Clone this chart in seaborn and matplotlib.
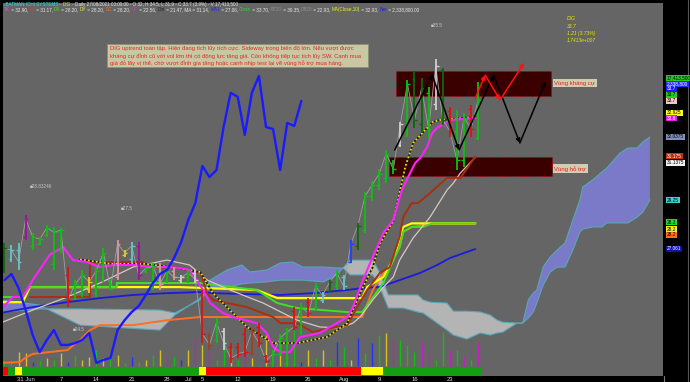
import numpy as np
import pandas as pd
import matplotlib
matplotlib.use("Agg")
import matplotlib.pyplot as plt
import matplotlib.transforms as mtransforms
from matplotlib.patches import Rectangle
import seaborn as sns

# ---------------------------------------------------------------- data
dates = pd.bdate_range("2021-05-26", periods=68)
bar_high = [27.33, 27.24, 27.33, 28.57, 27.77, 27.60, 28.13, 28.04, 28.00, 26.26,
            25.68, 26.13, 25.80, 26.26, 27.11, 25.68, 27.46, 27.00, 27.38, 27.38,
            26.26, 26.44, 26.44, 26.26, 26.26, 25.91, 26.13, 26.13, 25.24, 23.33,
            24.00, 23.55, 22.88, 22.88, 23.55, 23.60, 23.77, 22.35, 22.57, 23.30,
            23.55, 24.48, 24.66, 24.88, 25.55, 25.15, 25.68, 26.13, 25.91, 27.46,
            28.22, 29.60, 30.10, 30.60, 31.46, 31.00, 32.71, 34.57, 34.93, 34.66,
            34.26, 35.50, 35.10, 33.37, 33.24, 33.10, 33.46, 34.50]
bar_low = [26.00, 26.48, 26.13, 27.46, 27.02, 27.24, 27.60, 26.13, 26.90, 24.48,
           24.80, 24.93, 25.10, 24.93, 25.60, 25.24, 25.68, 26.70, 26.44, 25.68,
           26.00, 25.24, 25.24, 25.55, 25.68, 25.55, 25.55, 25.55, 22.88, 22.57,
           22.88, 22.57, 22.00, 22.22, 22.26, 22.35, 22.71, 22.00, 21.82, 22.30,
           21.82, 23.46, 23.24, 24.04, 24.35, 24.66, 25.15, 25.24, 25.24, 26.44,
           27.02, 27.77, 29.20, 29.70, 29.99, 30.40, 31.60, 32.04, 32.44, 32.20,
           31.91, 33.24, 32.57, 32.04, 30.57, 30.70, 32.04, 31.90]
bar_open = [26.30, 26.60, 27.00, 27.60, 27.20, 27.30, 27.70, 26.40, 27.00, 25.90,
            25.00, 25.10, 25.30, 25.10, 25.80, 25.60, 25.80, 26.80, 26.60, 27.20,
            26.10, 25.40, 26.30, 25.70, 26.10, 25.70, 25.80, 26.00, 25.00, 23.20,
            23.00, 23.40, 22.70, 22.70, 23.30, 22.50, 23.60, 22.30, 22.00, 22.40,
            22.00, 24.30, 23.40, 24.70, 24.50, 24.80, 25.20, 25.40, 25.80, 26.50,
            27.20, 27.90, 29.40, 29.90, 30.20, 30.90, 31.70, 32.30, 34.60, 32.60,
            34.00, 33.50, 35.00, 33.20, 32.30, 31.00, 33.30, 32.00]
bar_close = [27.10, 27.00, 26.50, 28.40, 27.60, 27.50, 28.00, 27.80, 27.90, 24.80,
             25.50, 25.90, 25.60, 26.10, 26.90, 25.30, 27.30, 26.90, 27.20, 25.90,
             26.20, 26.30, 25.50, 26.10, 25.80, 25.80, 26.00, 25.70, 23.30, 22.80,
             23.80, 22.90, 22.20, 22.40, 22.50, 23.40, 22.90, 22.10, 22.40, 23.10,
             23.40, 23.60, 24.50, 24.20, 25.40, 25.00, 25.60, 26.00, 25.40, 27.30,
             28.10, 29.40, 29.90, 30.40, 31.30, 30.60, 32.60, 34.40, 32.80, 34.20,
             32.40, 35.20, 32.80, 32.30, 31.00, 32.90, 32.40, 33.70]
bar_kind = list("dccmggggg" "rggyggg" "pyc" "mggpgpwgw" "rogwrrrorrggg"
                "rgrgcdgcbdggggg" "wgddgwdrggrg")
volume_m = [4.5, 3.0, 10.6, 9.8, 3.0, 3.8, 6.1, 4.5, 9.8, 3.0,
            8.3, 4.5, 6.8, 12.1, 6.1, 8.3, 8.3, 2.3, 6.8, 3.0,
            4.5, 8.3, 12.1, 6.8, 6.8, 4.5, 12.1, 21.2, 15.9, 12.1,
            4.5, 22.0, 13.6, 4.5, 10.6, 6.1, 0.8, 23.5, 3.0, 19.7,
            7.6, 27.3, 3.0, 12.1, 6.1, 12.1, 4.5, 18.2, 14.4, 4.5,
            21.2, 9.8, 17.4, 23.5, 25.0, 19.7, 19.7, 15.9, 10.6, 18.2,
            9.8, 4.5, 25.8, 12.1, 12.1, 6.8, 4.5, 17.41]
volume_kind = list("ggyybgygybgyygygygbgygymgbymymggygmygybygg"
                   "bygygbgybgbgymgggmmggmgmgmg")
trend_kind = list("rgy" + "g" * 25 + "y" + "r" * 22 + "yyy" + "g" * 14)

# blue indicator line (bars 0..42)
indicator = [25.68, 25.95, 25.33, 24.35, 23.24, 22.48, 23.02, 23.46, 22.80, 22.80,
             22.88, 23.02, 23.33, 22.00, 22.13, 22.22, 23.46, 23.90, 24.26, 24.53,
             25.02, 25.55, 25.95, 26.13, 26.66, 27.37, 28.35, 29.10, 30.75, 30.26,
             30.57, 32.48, 34.00, 33.82, 32.13, 34.00, 34.75, 32.48, 32.39, 30.57,
             32.66, 32.53, 33.64]

# ichimoku / moving-average lines as (bar, value) vertices
tk_x = [-0.6, 1.2, 2.6, 4.0, 6.4, 8.3, 9.7, 11.7, 13.5, 15.4, 18.2, 21.0, 23.0, 24.8, 26.2,
        28.1, 29.1, 30.9, 32.3, 35.7, 37.1, 38.0, 39.0, 40.4, 41.8, 44.6, 47.0, 48.5, 49.3,
        50.7, 52.1, 53.6, 55.0, 56.2, 57.1, 58.1, 58.8, 59.8, 60.5, 61.2, 63.0, 66.6]
tk_y = [24.35, 24.93, 24.93, 25.68, 26.80, 27.15, 26.57, 26.48, 26.26, 26.35, 26.35, 26.26,
        26.26, 26.22, 26.13, 25.24, 24.66, 24.22, 24.04, 23.77, 23.33, 22.71, 22.48, 22.48,
        23.15, 23.33, 23.77, 24.04, 24.48, 25.68, 26.71, 27.77, 28.35, 29.68, 30.26, 30.88,
        31.10, 31.60, 32.22, 32.44, 32.79, 32.88]
kj_x = [3.6, 12.1, 12.1, 19.6, 20.2, 24.8, 27.7, 28.7, 29.5, 34.3, 38.0, 39.0, 41.4, 43.6,
        46.1, 48.5, 49.9, 51.3, 53.1, 54.5, 55.9, 56.4, 57.6, 58.5, 60.2, 62.6, 64.5, 66.6]
kj_y = [24.93, 24.93, 26.48, 26.48, 26.26, 26.22, 26.00, 25.08, 24.80, 24.48, 24.04, 23.77,
        23.77, 23.37, 23.55, 23.68, 24.48, 25.24, 26.00, 26.26, 27.60, 28.48, 29.10, 29.10,
        29.55, 30.22, 30.22, 31.175]
ma_x = [-0.6, 4.0, 8.9, 13.5, 18.2, 23.0, 26.2, 28.7, 31.9, 36.6, 41.4, 44.6, 47.5, 49.3,
        50.3, 52.1, 53.6, 55.0, 55.9, 57.8, 60.2, 62.6, 63.5, 64.5, 66.6]
ma_y = [23.77, 24.35, 24.93, 25.55, 26.26, 26.57, 26.35, 25.68, 25.24, 24.66, 23.90, 23.60,
        23.55, 23.77, 24.04, 24.80, 25.37, 25.82, 26.57, 27.55, 28.48, 29.68, 29.99, 30.44,
        31.1375]
ma1_x = [-0.6, 4.0, 8.9, 13.5, 18.2, 23.0, 27.7, 29.5, 39.0, 43.6, 48.5, 50.7, 53.1, 55.9,
         58.8, 61.2, 63.0, 66.6]
ma1_y = [24.22, 24.48, 24.70, 24.88, 25.02, 25.10, 25.15, 25.10, 25.02, 25.10, 25.24, 25.33,
         25.37, 25.68, 26.00, 26.35, 26.66, 27.061]
dy_x = [-0.6, 2.6, 3.6, 24.8, 35.7, 38.6, 50.6, 51.3, 53.6, 55.0, 56.4, 57.6, 66.6]
dy_y = [24.70, 24.70, 25.37, 25.37, 25.24, 24.88, 24.88, 25.37, 25.82, 26.60, 28.04, 28.20, 28.20]
dx_x = [-0.6, 2.6, 3.6, 15.9, 15.9, 27.7, 35.7, 38.6, 41.4, 48.5, 50.6, 53.6, 55.0, 55.9,
        56.4, 57.6, 59.2, 60.5, 66.6]
dx_y = [24.93, 24.93, 25.37, 25.37, 25.55, 25.55, 25.24, 24.66, 24.44, 24.26, 24.26, 25.55,
        26.57, 27.15, 27.82, 28.04, 28.04, 28.20, 28.20]
dc_x = [-0.6, 2.2, 2.9, 4.0, 8.9, 10.7, 12.1, 13.5, 18.2, 23.0, 27.7, 50.6, 52.1, 53.6,
        54.5, 55.9, 56.4, 57.6, 60.5, 66.6]
dc_y = [22.00, 22.04, 22.22, 22.40, 22.57, 23.02, 23.46, 23.68, 23.68, 23.90, 24.04, 24.04,
        25.24, 26.00, 26.26, 27.15, 27.82, 28.04, 28.20, 28.20]
ma10_x = [10.7, 15.0, 20.0, 24.8, 27.7, 29.5, 34.3, 38.0, 41.4, 45.6, 48.5, 50.3, 52.1,
          53.1, 55.0, 56.7, 57.8, 60.6, 61.6, 66.6]
ma10_y = [26.60, 26.40, 26.40, 26.20, 26.04, 25.10, 23.60, 22.88, 22.88, 23.15, 23.77,
          25.10, 26.26, 27.30, 28.30, 30.71, 31.77, 32.71, 32.79, 32.925]

# ichimoku cloud (senkou span A / B), projected 26 bars ahead
cloud_x = [-0.6, 5.0, 6.0, 10.7, 22.0, 24.1, 27.7, 29.1, 31.5, 33.6, 34.7, 37.1, 39.0, 40.8,
           42.2, 45.1, 47.0, 47.9, 48.9, 52.1, 53.1, 54.3, 56.4, 58.5, 59.2, 60.2, 62.6,
           63.5, 65.4, 67.3, 68.7, 69.7, 70.5, 72.5, 73.3, 74.1, 74.8, 75.3, 76.2, 77.2,
           78.2, 79.3, 80.4, 81.4, 81.8, 83.2, 84.5, 85.2, 87.1, 88.2, 89.5, 90.3, 91.3]
span_a = [24.80, 24.57, 24.40, 23.68, 23.46, 24.13, 24.88, 25.68, 26.13, 26.35, 26.04, 26.13,
          26.44, 26.48, 26.26, 26.26, 26.22, 26.22, 25.91, 25.91, 25.37, 24.44, 24.44, 24.26,
          24.22, 24.00, 23.46, 23.24, 23.06, 23.33, 23.24, 23.33, 23.37, 23.77, 23.77, 24.80,
          25.10, 25.24, 26.26, 26.71, 27.02, 27.33, 28.35, 29.24, 29.82, 30.13, 30.48, 30.66,
          31.33, 31.55, 31.55, 31.82, 32.0375]
span_b = [24.26, 24.40, 24.40, 24.40, 24.35, 24.22, 24.80, 25.37, 25.37, 25.51, 25.55, 25.60,
          25.68, 25.68, 25.68, 25.60, 25.91, 26.22, 26.57, 26.57, 26.00, 25.02, 25.02, 25.02,
          24.80, 24.70, 24.66, 24.30, 24.30, 24.26, 24.13, 23.90, 23.81, 23.77, 23.77, 24.00,
          24.26, 24.66, 25.46, 26.04, 26.26, 26.26, 27.02, 27.82, 27.95, 28.04, 28.04, 28.22,
          28.22, 28.22, 28.48, 28.70, 29.25]

# hand-drawn scenario paths (bar, price)
black_path_x = [55.2, 60.5, 64.3, 69.2, 72.9, 76.5]
black_path_y = [31.46, 34.79, 31.46, 34.79, 31.77, 34.48]
red_path_x = [66.6, 68.0, 70.1, 73.5]
red_path_y = [33.77, 34.79, 33.68, 35.33]
resistance_zone = (55.4, 77.3, 33.86, 34.97)
support_zone = (54.4, 77.5, 30.31, 31.15)

tick_pos = [3, 8, 13, 18, 23, 26, 28, 33, 38, 43, 48, 53, 58, 63]
tick_lab = ["31 Jun", "7", "14", "21", "28", "Jul", "5", "12", "19", "26", "Aug", "9", "16", "23"]

price_labels = ["17,413,500", "2,338,800", "33.7", "33.7", "33.7", "32.925", "32.8",
                "32.0375", "31.175", "31.1375", "29.25", "28.2", "28.2", "28.2", "27.061"]
price_label_colors = [("#22cc22", "black"), ("#2a2aff", "white"), ("#1a1aff", "white"),
                      ("#22cc22", "black"), ("#f0c8c8", "black"), ("#ffff20", "black"),
                      ("#e020e0", "white"), ("#8090b8", "black"), ("#c03010", "white"),
                      ("#f0f0f0", "black"), ("#40d0d0", "black"), ("#22dd22", "black"),
                      ("#f0f020", "black"), ("#ff7020", "black"), ("#1010b0", "white")]
price_label_ypx = [78, 84, 89, 95, 101, 113, 118, 137, 156, 163, 200, 222, 229, 235, 249]

note_lines = ["DIG uptrend toàn tập. Hiện đang tích lũy tích cực. Sideway trong biên độ lớn. Nếu vượt được",
              "kháng cự đỉnh cũ với vol lớn thì có động lực tăng giá. Còn không tiếp tục tích lũy SW. Canh mua",
              "giá đỏ lấy vị thế, chờ vượt đỉnh gia tăng hoặc canh nhịp test lại về vùng hỗ trợ mua hàng."]
summary = ["DIG", "33.7", "1.21 (3.73%)", "1.7413e+007"]

# ---------------------------------------------------------------- style
W, H = 690, 382
sns.set_theme(style="dark", rc={"axes.facecolor": "#656565", "figure.facecolor": "black"})
FONT = ["Liberation Sans", "DejaVu Sans"]
plt.rcParams["font.family"] = FONT

fig = plt.figure(figsize=(W / 100, H / 100), dpi=100)
ax = fig.add_axes([3 / W, 1 - 376 / H, 660 / W, 373 / H])
ax.set_xlim(-0.2, 93.15)
ax.set_ylim(21.42, 37.99)
for s in ax.spines.values():
    s.set_visible(False)
ax.grid(False)

kind_color = {"g": "#10c010", "d": "#0a6a0a", "r": "#e01010", "c": "#60c8c8", "m": "#a010a0",
              "p": "#d898a0", "w": "#d0d0d0", "o": "#a04020", "y": "#e0d020", "b": "#2040ff"}

# cloud
ca, cb = np.array(span_a), np.array(span_b)
ax.fill_between(cloud_x, ca, cb, where=ca >= cb, interpolate=True, color="#7a7ac8", lw=0, zorder=1)
ax.fill_between(cloud_x, ca, cb, where=ca < cb, interpolate=True, color="#b4b4b4", lw=0, zorder=1)
ax.plot(cloud_x, ca, color="#58a8b8", lw=0.8, zorder=1.5)
ax.plot(cloud_x, cb, color="#58a8b8", lw=0.8, zorder=1.5)

# volume (twin axis)
vax = ax.twinx()
vax.set_ylim(-7.58, 275)
vax.set_yticks([])
for s in vax.spines.values():
    s.set_visible(False)
vkc = {"g": "#10c010", "y": "#d8c020", "b": "#2030ff", "m": "#c020c0"}
vax.vlines(range(len(volume_m)), 0, volume_m, colors=[vkc[k] for k in volume_kind], lw=1.0)
strip_c = {"g": "#10a010", "y": "#ffff00", "r": "#ff0000"}
trans = mtransforms.blended_transform_factory(vax.transData, vax.transAxes)
vax.bar(np.arange(len(trend_kind)) - 0.5, 8 / 373, width=1.0, bottom=1 / 373, align="edge",
        color=[strip_c[k] for k in trend_kind], transform=trans, lw=0)

ax.set_zorder(vax.get_zorder() + 1)
ax.patch.set_visible(False)
fig.patches.append(Rectangle((3 / W, 1 - 376 / H), 660 / W, 373 / H, transform=fig.transFigure,
                             facecolor="#656565", edgecolor="none", zorder=-5))

def line(xs, ys, color, lw, z=3, **kw):
    sns.lineplot(x=xs, y=ys, ax=ax, color=color, linewidth=lw, sort=False, estimator=None,
                 legend=False, zorder=z, **kw)

line(ma1_x, ma1_y, "#1a1ae0", 1.3)
line(dc_x, dc_y, "#ff7020", 1.4)
line(dy_x, dy_y, "#ffff00", 1.6)
line(dx_x, dx_y, "#40e020", 1.4)
line(ma_x, ma_y, "#d8c8c0", 0.9)
line(kj_x, kj_y, "#a83010", 1.4)
line(ma10_x, ma10_y, "#202020", 1.3)
line(ma10_x, ma10_y, "#e8d820", 1.3, dashes=(1, 1.2))
line(tk_x, tk_y, "#ff20ff", 1.5)

# close line and OHLC bars
idx = np.arange(len(bar_close))
line(list(idx), bar_close, "#a0a0a0", 0.6, z=3.5)
cols = [kind_color[k] for k in bar_kind]
ax.vlines(idx, bar_low, bar_high, colors=cols, lw=1.3, zorder=4)
ax.hlines(bar_open, idx - 0.4, idx, colors=cols, lw=1.0, zorder=4)
ax.hlines(bar_close, idx, idx + 0.4, colors=cols, lw=1.0, zorder=4)

# blue indicator
line(list(range(len(indicator))), indicator, "#1a1aff", 1.7, z=5)

# zones
for (x0, x1, y0, y1) in (resistance_zone, support_zone):
    ax.add_patch(Rectangle((x0, y0), x1 - x0, y1 - y0, facecolor="#3a0000",
                           edgecolor="#b00000", lw=0.6, ls=":", zorder=2.5))
ax.text(resistance_zone[1] + 0.5, (resistance_zone[2] + resistance_zone[3]) / 2, "Vùng kháng cự",
        fontsize=4.3, color="#e02020", va="center", ha="left", zorder=6,
        bbox=dict(boxstyle="square,pad=0.25", fc="#cfcfb0", ec="none"))
ax.text(support_zone[1] + 0.3, (support_zone[2] + support_zone[3]) / 2 - 0.1, "Vùng hỗ trợ",
        fontsize=4.3, color="#e02020", va="center", ha="left", zorder=6,
        bbox=dict(boxstyle="square,pad=0.25", fc="#cfcfb0", ec="none"))

def path(xs, ys, color):
    for i in range(len(xs) - 1):
        ax.annotate("", xy=(xs[i + 1], ys[i + 1]), xytext=(xs[i], ys[i]), zorder=6,
                    arrowprops=dict(arrowstyle="-|>", color=color, lw=1.1,
                                    mutation_scale=6, shrinkA=0, shrinkB=0))

path(black_path_x, black_path_y, "black")
path(red_path_x, red_path_y, "#ff1010")

# small price tags in chart
for bx, py, s in [(3.6, 29.85, "28.83246"), (16.5, 28.85, "27.5"), (9.6, 23.48, "24.5"),
                  (60.3, 37.0, "35.5")]:
    ax.text(bx, py, "■" + s, fontsize=3.3, color="#c8c8c8", va="center", ha="left", zorder=6)

# x tick labels
ax.set_xticks(tick_pos)
ax.set_xticklabels(tick_lab, fontsize=4.2, color="#d8d8d8")
ax.tick_params(axis="x", length=0, pad=1.0)
ax.tick_params(axis="y", left=False, labelleft=False)
ax.set_xlabel("")
ax.set_ylabel("")

# right price panel
fig.add_artist(plt.Line2D([663.5 / W] * 2, [0, 1 - 376 / H], color="#7a7a7a", lw=0.8))
fig.add_artist(plt.Line2D([687.5 / W] * 2, [0, 1], color="#555555", lw=0.8))
for s, (bg, fg), ypx in zip(price_labels, price_label_colors, price_label_ypx):
    fig.text(667 / W, 1 - ypx / H, s, fontsize=3.4, color=fg, va="center", ha="left",
             bbox=dict(boxstyle="square,pad=0.2", fc=bg, ec="none"))

# annotation note box
fig.patches.append(Rectangle((107 / W, 1 - 67 / H), 261 / W, 23 / H, transform=fig.transFigure,
                             facecolor="#c8c8a4", edgecolor="#909078", lw=0.6, zorder=10))
for k, s in enumerate(note_lines):
    fig.text(110 / W, 1 - (48.5 + 7.2 * k) / H, s, fontsize=4.25, color="#e02828",
             va="center", ha="left", zorder=11)

# summary (top right)
for k, s in enumerate(summary):
    fig.text(567 / W, 1 - (19 + 7.3 * k) / H, s, fontsize=3.6, color="#e8e800",
             style="italic", va="center", ha="left")

# header lines
renderer = fig.canvas.get_renderer()
def segs(x0, ypx, parts, size=3.3):
    x = x0
    for s, c in parts:
        t = fig.text(x / W, 1 - ypx / H, s, fontsize=size, color=c, va="center", ha="left")
        x += t.get_window_extent(renderer=renderer).width

wt = "#e8e8e8"
segs(4, 4.5, [("‹BATMAN ICHI SYSTEMS", "#30e0e0"), (" - ", wt), ("DIG", "#f0f020"),
              (" - Daily 27/08/2021 00:00:00 - O 32, H 34.5, L 31.9 - C 33.7 (3.9%) - V 17,413,500", wt)])
segs(4, 9.5, [("TK", "#ff40ff"), (" = 32.90, ", wt), ("KJ", "#e04020"), (" = 31.17, ", wt),
              ("DX", "#40e020"), (" = 28.20, ", wt), ("DY", "#f0f020"), (" = 28.20, ", wt),
              ("DC", "#ff7020"), (" = 28.20, ", wt), ("DT", "#c040c0"), (" = 22.56, ", wt),
              ("Dm", "#202020"), (" = 21.47, MA = 31.14, ", wt), ("MA1", "#2020ff"),
              (" = 27.06, ", wt), ("Close", "#20e020"), (" = 33.70, ", wt), ("BT20", "#909090"),
              (" = 39.35, ", wt), ("DB20", "#909090"), (" = 22.93, ", wt),
              ("MA(Close,10)", "#f0f020"), (" = 32.93, ", wt), ("Net", "#2020ff"),
              (" = 2,338,800.00", wt)])

fig.savefig("out.png", dpi=100, facecolor="black")
